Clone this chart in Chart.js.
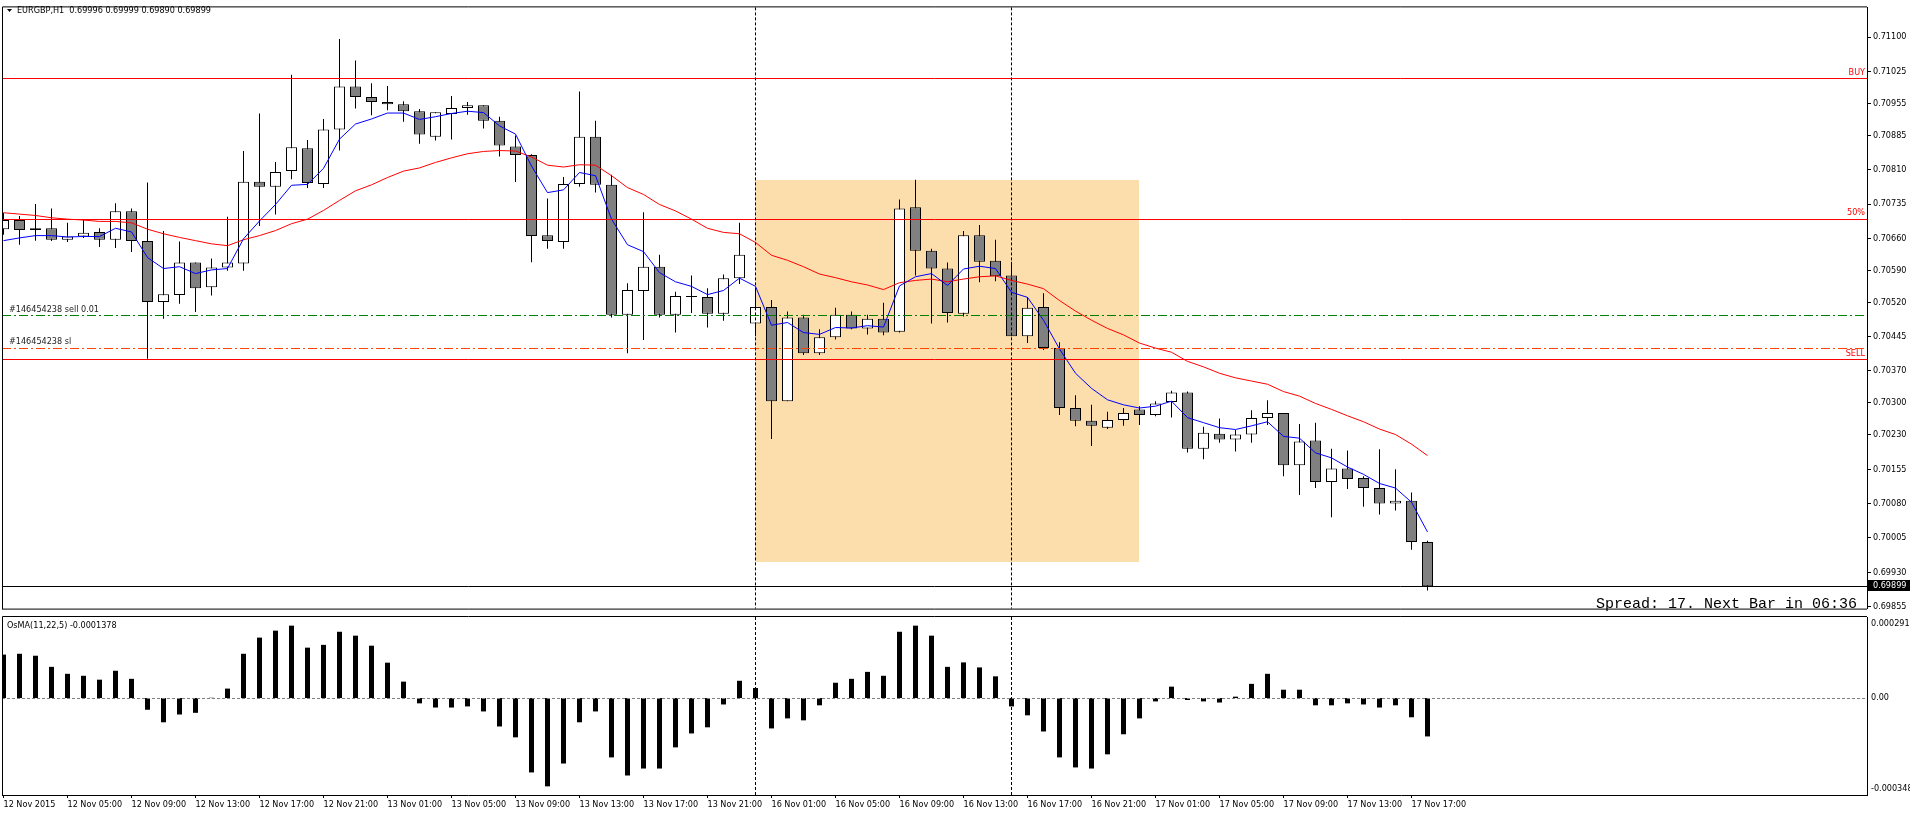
<!DOCTYPE html>
<html>
<head>
<meta charset="utf-8">
<script src="https://cdn.jsdelivr.net/npm/chart.js@4.4.1/dist/chart.umd.min.js"></script>
<style>
  html, body { margin: 0; padding: 0; background: #fff; }
  #wrap { position: relative; width: 1910px; height: 813px; overflow: hidden; background: #fff; }
  #priceChart { position: absolute; left: 0; top: 0; }
  #osmaChart { position: absolute; left: 0; top: 616px; }
</style>
</head>
<body>
<div id="wrap">
  <canvas id="priceChart" width="1910" height="616"></canvas>
  <canvas id="osmaChart" width="1910" height="197"></canvas>
</div>
<script>
// EURGBP H1, 12 Nov 01:00 .. 17 Nov 18:00 (one entry per bar)
const opens = [0.70680,0.70700,0.70678,0.70682,0.70657,0.70664,0.70674,0.70657,0.70719,0.70654,
  0.70521,0.70536,0.70607,0.70553,0.70596,0.70605,0.70784,0.70773,0.70807,0.70857,
  0.70779,0.70898,0.70992,0.70969,0.70958,0.70953,0.70938,0.70882,0.70932,0.70945,
  0.70951,0.70917,0.70861,0.70842,0.70667,0.70652,0.70779,0.70882,0.70777,0.70493,
  0.70545,0.70598,0.70493,0.70532,0.70532,0.70495,0.70573,0.70474,0.70510,0.70304,
  0.70487,0.70409,0.70444,0.70493,0.70463,0.70484,0.70456,0.70728,0.70633,0.70594,
  0.70495,0.70667,0.70611,0.70579,0.70446,0.70510,0.70420,0.70289,0.70261,0.70246,
  0.70263,0.70286,0.70274,0.70302,0.70323,0.70200,0.70233,0.70220,0.70231,0.70267,
  0.70278,0.70164,0.70218,0.70127,0.70157,0.70136,0.70114,0.70080,0.70086,0.69996];
const highs = [0.70716,0.70709,0.70735,0.70725,0.70694,0.70700,0.70682,0.70737,0.70725,0.70782,
  0.70676,0.70653,0.70607,0.70616,0.70707,0.70851,0.70933,0.70827,0.71018,0.70875,
  0.70921,0.71096,0.71049,0.70999,0.70993,0.70960,0.70943,0.70936,0.70971,0.70958,
  0.70951,0.70926,0.70885,0.70844,0.70747,0.70794,0.70981,0.70917,0.70799,0.70562,
  0.70717,0.70624,0.70543,0.70579,0.70551,0.70581,0.70694,0.70549,0.70525,0.70500,
  0.70493,0.70461,0.70508,0.70500,0.70493,0.70519,0.70745,0.70788,0.70637,0.70607,
  0.70676,0.70689,0.70657,0.70609,0.70532,0.70540,0.70433,0.70317,0.70296,0.70281,
  0.70289,0.70293,0.70304,0.70327,0.70325,0.70248,0.70266,0.70241,0.70284,0.70306,
  0.70278,0.70254,0.70257,0.70200,0.70196,0.70140,0.70199,0.70155,0.70104,0.69999];
const lows = [0.70668,0.70646,0.70655,0.70654,0.70652,0.70661,0.70641,0.70639,0.70630,0.70397,
  0.70484,0.70517,0.70499,0.70535,0.70589,0.70589,0.70687,0.70712,0.70789,0.70770,
  0.70770,0.70852,0.70944,0.70929,0.70940,0.70915,0.70867,0.70874,0.70876,0.70930,
  0.70900,0.70839,0.70783,0.70608,0.70637,0.70637,0.70773,0.70760,0.70487,0.70409,
  0.70438,0.70487,0.70454,0.70497,0.70465,0.70480,0.70560,0.70446,0.70221,0.70304,
  0.70405,0.70405,0.70439,0.70461,0.70450,0.70448,0.70454,0.70579,0.70474,0.70476,
  0.70489,0.70564,0.70566,0.70446,0.70431,0.70416,0.70274,0.70249,0.70206,0.70243,
  0.70250,0.70252,0.70271,0.70268,0.70192,0.70177,0.70213,0.70194,0.70213,0.70252,
  0.70140,0.70099,0.70114,0.70050,0.70112,0.70073,0.70056,0.70065,0.69979,0.69890];
const closes = [0.70700,0.70678,0.70682,0.70657,0.70664,0.70672,0.70657,0.70719,0.70654,0.70521,
  0.70538,0.70607,0.70551,0.70596,0.70607,0.70784,0.70773,0.70805,0.70859,0.70781,
  0.70898,0.70992,0.70969,0.70958,0.70953,0.70938,0.70887,0.70936,0.70945,0.70951,
  0.70917,0.70863,0.70842,0.70665,0.70654,0.70779,0.70882,0.70777,0.70493,0.70547,
  0.70598,0.70493,0.70534,0.70532,0.70495,0.70573,0.70624,0.70510,0.70304,0.70487,
  0.70409,0.70444,0.70493,0.70463,0.70484,0.70454,0.70725,0.70633,0.70594,0.70497,
  0.70667,0.70609,0.70577,0.70446,0.70508,0.70420,0.70289,0.70261,0.70250,0.70263,
  0.70278,0.70274,0.70299,0.70323,0.70200,0.70235,0.70220,0.70231,0.70267,0.70278,
  0.70164,0.70216,0.70127,0.70157,0.70134,0.70114,0.70080,0.70086,0.69996,0.69899];

// moving averages (blue fast, red slow)
const fastMA = [0.70655,0.70661,0.70666,0.70666,0.70663,0.70664,0.70664,0.70682,0.70674,0.70618,
  0.70594,0.70598,0.70583,0.70591,0.70594,0.70659,0.70698,0.70734,0.70776,0.70778,
  0.70813,0.70877,0.70910,0.70921,0.70934,0.70934,0.70920,0.70926,0.70933,0.70938,
  0.70935,0.70906,0.70888,0.70818,0.70760,0.70766,0.70804,0.70797,0.70702,0.70646,
  0.70631,0.70585,0.70565,0.70555,0.70537,0.70546,0.70573,0.70555,0.70470,0.70476,
  0.70454,0.70450,0.70465,0.70464,0.70469,0.70466,0.70556,0.70576,0.70583,0.70557,
  0.70593,0.70599,0.70594,0.70542,0.70531,0.70481,0.70418,0.70365,0.70332,0.70307,
  0.70296,0.70289,0.70293,0.70304,0.70268,0.70257,0.70246,0.70242,0.70250,0.70259,
  0.70227,0.70223,0.70191,0.70180,0.70160,0.70144,0.70124,0.70114,0.70083,0.70018];
const slowMA = [0.70716,0.70713,0.70710,0.70705,0.70702,0.70700,0.70697,0.70697,0.70694,0.70680,
  0.70670,0.70662,0.70655,0.70648,0.70644,0.70657,0.70666,0.70677,0.70692,0.70702,
  0.70721,0.70743,0.70764,0.70777,0.70793,0.70807,0.70814,0.70826,0.70836,0.70845,
  0.70850,0.70852,0.70851,0.70838,0.70820,0.70816,0.70821,0.70820,0.70797,0.70771,
  0.70756,0.70734,0.70720,0.70702,0.70682,0.70673,0.70670,0.70651,0.70623,0.70612,
  0.70598,0.70582,0.70574,0.70565,0.70558,0.70548,0.70563,0.70568,0.70571,0.70565,
  0.70571,0.70576,0.70578,0.70568,0.70560,0.70550,0.70524,0.70501,0.70481,0.70463,
  0.70449,0.70431,0.70420,0.70411,0.70391,0.70379,0.70365,0.70355,0.70348,0.70341,
  0.70325,0.70315,0.70299,0.70286,0.70272,0.70259,0.70243,0.70231,0.70210,0.70185];

// OsMA(11,22,5) histogram
const osmaValues = [0.000156,0.000159,0.000152,0.000112,0.000087,0.000080,0.000066,0.000098,0.000069,-0.000042,
  -0.000087,-0.000059,-0.000053,0.000001,0.000034,0.000159,0.000217,0.000242,0.000260,0.000181,
  0.000191,0.000238,0.000224,0.000188,0.000127,0.000059,-0.000019,-0.000034,-0.000034,-0.000030,
  -0.000048,-0.000102,-0.000141,-0.000267,-0.000317,-0.000235,-0.000087,-0.000048,-0.000213,-0.000278,
  -0.000253,-0.000253,-0.000177,-0.000127,-0.000105,-0.000023,0.000062,0.000036,-0.000109,-0.000073,
  -0.000080,-0.000026,0.000055,0.000069,0.000094,0.000080,0.000238,0.000260,0.000224,0.000112,
  0.000128,0.000110,0.000078,-0.000030,-0.000062,-0.000120,-0.000213,-0.000249,-0.000253,-0.000202,
  -0.000130,-0.000073,-0.000012,0.000041,-0.000007,-0.000012,-0.000016,0.000005,0.000051,0.000087,
  0.000030,0.000030,-0.000026,-0.000026,-0.000019,-0.000023,-0.000034,-0.000026,-0.000069,-0.0001378];

// time axis: one label every 4 bars
const timeLabels = ["12 Nov 2015","12 Nov 05:00","12 Nov 09:00","12 Nov 13:00","12 Nov 17:00","12 Nov 21:00",
  "13 Nov 01:00","13 Nov 05:00","13 Nov 09:00","13 Nov 13:00","13 Nov 17:00","13 Nov 21:00",
  "16 Nov 01:00","16 Nov 05:00","16 Nov 09:00","16 Nov 13:00","16 Nov 17:00","16 Nov 21:00",
  "17 Nov 01:00","17 Nov 05:00","17 Nov 09:00","17 Nov 13:00","17 Nov 17:00"];
const labelEvery = 4;

const priceTicks = [0.71100,0.71025,0.70955,0.70885,0.70810,0.70735,0.70660,0.70590,0.70520,
  0.70445,0.70370,0.70300,0.70230,0.70155,0.70080,0.70005,0.69930,0.69855];

// chart objects
const buyLevel = 0.71009, midLevel = 0.70702, sellLevel = 0.70394;
const orderPrice = 0.70492, stopPrice = 0.70420;
const orderTicket = "#146454238";
const zoneFrom = 47, zoneTo = 71, zoneHigh = 0.70788, zoneLow = 0.69952;
const separators = [47, 63];
const osmaTop = 0.000291, osmaBottom = -0.000348;

const FONT = '"DejaVu Sans Condensed", "DejaVu Sans", sans-serif';
Chart.defaults.font.family = FONT;
Chart.defaults.font.size = 9;
Chart.defaults.color = '#000';

const last = closes.length - 1;
const xMin = -0.09375, xMax = 116.46875;

function hline(ctx, a, py, color, dash) {
  const yy = Math.floor(py) + 0.5;
  ctx.strokeStyle = color;
  ctx.lineWidth = 1;
  ctx.setLineDash(dash || []);
  ctx.beginPath();
  ctx.moveTo(a.left, yy);
  ctx.lineTo(a.right, yy);
  ctx.stroke();
}

function vlines(chart) {
  const { ctx, chartArea: a, scales: { x } } = chart;
  ctx.save();
  ctx.strokeStyle = '#000';
  ctx.lineWidth = 1;
  ctx.setLineDash([3, 2]);
  separators.forEach(bar => {
    const xx = Math.floor(x.getPixelForValue(bar)) + 0.5;
    ctx.beginPath();
    ctx.moveTo(xx, a.top);
    ctx.lineTo(xx, a.bottom);
    ctx.stroke();
  });
  ctx.restore();
}

const mainOverlay = {
  id: 'mainOverlay',
  beforeDatasetsDraw(chart) {
    const { ctx, scales: { x, y } } = chart;
    const x1 = Math.floor(x.getPixelForValue(zoneFrom));
    const x2 = Math.floor(x.getPixelForValue(zoneTo));
    const y1 = Math.round(y.getPixelForValue(zoneHigh));
    const y2 = Math.round(y.getPixelForValue(zoneLow));
    ctx.save();
    ctx.fillStyle = '#fcdeac';
    ctx.fillRect(x1, y1, x2 - x1, y2 - y1);
    ctx.restore();
  },
  afterDatasetsDraw(chart) {
    const { ctx, chartArea: a, scales: { y } } = chart;
    ctx.save();
    hline(ctx, a, y.getPixelForValue(buyLevel), '#ff0000');
    hline(ctx, a, y.getPixelForValue(midLevel), '#ff0000');
    hline(ctx, a, y.getPixelForValue(sellLevel), '#ff0000');
    hline(ctx, a, y.getPixelForValue(orderPrice), '#008000', [9, 3, 2, 3]);
    hline(ctx, a, y.getPixelForValue(stopPrice), '#ff4500', [9, 3, 2, 3]);
    hline(ctx, a, y.getPixelForValue(closes[last]), '#000');
    ctx.setLineDash([]);

    ctx.font = '9px ' + FONT;
    ctx.textBaseline = 'middle';
    ctx.fillStyle = '#ff0000';
    ctx.textAlign = 'right';
    ctx.fillText('BUY', a.right - 2, y.getPixelForValue(buyLevel) - 6);
    ctx.fillText('50%', a.right - 2, y.getPixelForValue(midLevel) - 6);
    ctx.fillText('SELL', a.right - 2, y.getPixelForValue(sellLevel) - 6);
    ctx.fillStyle = '#222';
    ctx.textAlign = 'left';
    ctx.fillText(orderTicket + ' sell 0.01', 9, y.getPixelForValue(orderPrice) - 5.5);
    ctx.fillText(orderTicket + ' sl', 9, y.getPixelForValue(stopPrice) - 6);
    ctx.restore();
    vlines(chart);
  },
  afterDraw(chart) {
    const { ctx, chartArea: a, scales: { y } } = chart;
    ctx.save();
    ctx.strokeStyle = '#000';
    ctx.lineWidth = 1;
    ctx.beginPath();
    ctx.moveTo(a.left + 0.5, a.top - 0.5);
    ctx.lineTo(a.right, a.top - 0.5);
    ctx.moveTo(a.left + 0.5, a.top - 0.5);
    ctx.lineTo(a.left + 0.5, a.bottom + 0.5);
    ctx.moveTo(a.left, a.bottom + 0.5);
    ctx.lineTo(a.right, a.bottom + 0.5);
    ctx.stroke();

    // title
    ctx.fillStyle = '#000';
    ctx.beginPath();
    ctx.moveTo(7, 9);
    ctx.lineTo(12, 9);
    ctx.lineTo(9.5, 12);
    ctx.closePath();
    ctx.fill();
    ctx.font = '9px ' + FONT;
    ctx.textBaseline = 'middle';
    ctx.textAlign = 'left';
    const ohlc = [opens[last], highs[last], lows[last], closes[last]].map(v => v.toFixed(5)).join(' ');
    ctx.fillText('EURGBP,H1  ' + ohlc, 17, 11);

    // bid price box
    const by = Math.round(y.getPixelForValue(closes[last]));
    ctx.fillRect(a.right + 1, by - 6, 45, 11);
    ctx.fillStyle = '#fff';
    ctx.fillText(closes[last].toFixed(5), a.right + 6, by);

    ctx.fillStyle = '#000';
    ctx.font = '15px "Liberation Mono", monospace';
    ctx.textAlign = 'right';
    ctx.fillText('Spread: 17. Next Bar in 06:36', 1857, 604);
    ctx.restore();
  }
};

const osmaOverlay = {
  id: 'osmaOverlay',
  afterDatasetsDraw(chart) {
    const { ctx, chartArea: a, scales: { y } } = chart;
    ctx.save();
    hline(ctx, a, y.getPixelForValue(0), '#808080', [3, 2]);
    ctx.restore();
    vlines(chart);
  },
  afterDraw(chart) {
    const { ctx, chartArea: a, scales: { y } } = chart;
    ctx.save();
    ctx.strokeStyle = '#000';
    ctx.lineWidth = 1;
    ctx.beginPath();
    ctx.moveTo(a.left + 0.5, 0.5);
    ctx.lineTo(a.right, 0.5);
    ctx.moveTo(a.left + 0.5, 0.5);
    ctx.lineTo(a.left + 0.5, a.bottom);
    ctx.stroke();

    ctx.fillStyle = '#000';
    ctx.font = '9px ' + FONT;
    ctx.textBaseline = 'middle';
    ctx.textAlign = 'left';
    ctx.fillText('OsMA(11,22,5) ' + osmaValues[last].toFixed(7), 7, 10);
    ctx.fillText(osmaTop.toFixed(6), a.right + 4, a.top + 7);
    ctx.fillText('0.00', a.right + 4, y.getPixelForValue(0));
    ctx.fillText(osmaBottom.toFixed(6), a.right + 4, a.bottom - 6);
    ctx.restore();
  }
};

const barCommon = { grouped: false, inflateAmount: 0, borderSkipped: false, borderRadius: 0 };

new Chart(document.getElementById('priceChart'), {
  type: 'bar',
  data: {
    datasets: [
      Object.assign({
        label: 'wick',
        data: highs.map((h, i) => ({ x: i, y: [lows[i], h] })),
        backgroundColor: '#000',
        borderWidth: 0,
        barThickness: 1,
        maxBarThickness: 1,
        order: 3
      }, barCommon),
      Object.assign({
        label: 'body',
        data: opens.map((o, i) => ({ x: i, y: [o, closes[i]] })),
        backgroundColor: closes.map((c, i) => c >= opens[i] ? '#ffffff' : '#808080'),
        borderColor: '#000',
        borderWidth: 1,
        minBarLength: 1,
        barThickness: 11,
        maxBarThickness: 11,
        order: 2
      }, barCommon),
      {
        type: 'line',
        label: 'slow',
        data: slowMA.map((v, i) => ({ x: i, y: v })),
        borderColor: '#ff0000',
        borderWidth: 1,
        pointRadius: 0,
        tension: 0,
        order: 1
      },
      {
        type: 'line',
        label: 'fast',
        data: fastMA.map((v, i) => ({ x: i, y: v })),
        borderColor: '#0000ff',
        borderWidth: 1,
        pointRadius: 0,
        tension: 0,
        order: 0
      }
    ]
  },
  options: {
    responsive: false,
    animation: false,
    events: [],
    layout: { padding: { left: 2, top: 3, right: 0, bottom: 2 } },
    plugins: { legend: { display: false }, tooltip: { enabled: false } },
    scales: {
      x: { type: 'linear', offset: false, min: xMin, max: xMax, display: false },
      y: {
        position: 'right',
        min: 0.698504,
        max: 0.711650,
        afterFit(scale) { scale.width = 43; },
        afterBuildTicks(scale) { scale.ticks = priceTicks.map(v => ({ value: v })); },
        grid: { drawOnChartArea: false, tickLength: 4, color: '#000' },
        border: { display: true, color: '#000' },
        ticks: { padding: 2, color: '#000', callback: v => v.toFixed(5) }
      }
    }
  },
  plugins: [mainOverlay]
});

new Chart(document.getElementById('osmaChart'), {
  type: 'bar',
  data: {
    datasets: [
      Object.assign({
        label: 'OsMA',
        data: osmaValues.map((v, i) => ({ x: i, y: v })),
        backgroundColor: '#000',
        borderWidth: 0,
        barThickness: 5,
        maxBarThickness: 5
      }, barCommon)
    ]
  },
  options: {
    responsive: false,
    animation: false,
    events: [],
    layout: { padding: { left: 2, top: 1, right: 0, bottom: 0 } },
    plugins: { legend: { display: false }, tooltip: { enabled: false } },
    scales: {
      x: {
        type: 'linear',
        offset: false,
        min: xMin,
        max: xMax,
        afterFit(scale) { scale.height = 18; },
        afterBuildTicks(scale) { scale.ticks = timeLabels.map((t, i) => ({ value: i * labelEvery })); },
        grid: { drawOnChartArea: false, offset: false, tickLength: 3, color: '#000' },
        border: { display: true, color: '#000' },
        ticks: {
          autoSkip: false,
          maxRotation: 0,
          minRotation: 0,
          align: 'start',
          padding: 1,
          color: '#000',
          callback: (v, i) => timeLabels[i]
        }
      },
      y: {
        position: 'right',
        min: osmaBottom,
        max: osmaTop,
        afterFit(scale) { scale.width = 43; },
        grid: { display: false },
        border: { display: true, color: '#000' },
        ticks: { display: false }
      }
    }
  },
  plugins: [osmaOverlay]
});
</script>
</body>
</html>
